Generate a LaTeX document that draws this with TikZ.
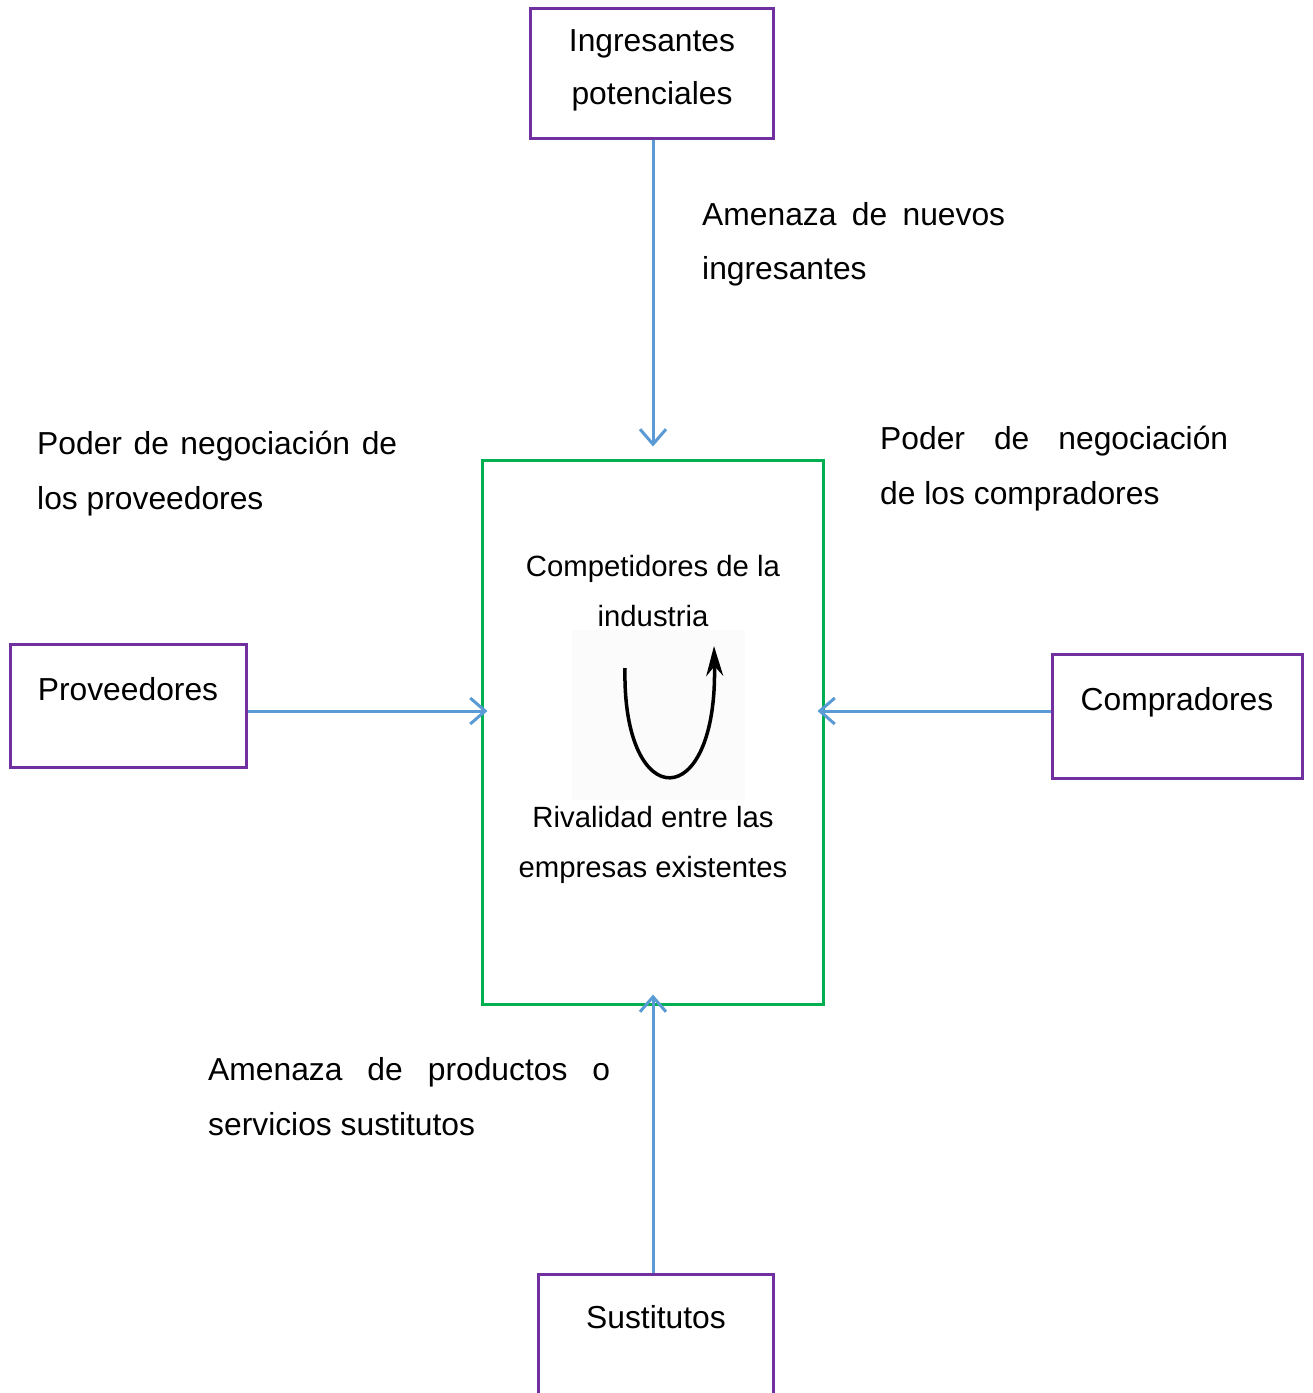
\documentclass[tikz,border=0pt]{standalone}
\usepackage{fontspec}
\setmainfont{Liberation Sans}
\usetikzlibrary{arrows.meta}
\definecolor{boxpurple}{HTML}{7030A0}
\definecolor{boxgreen}{HTML}{00B050}
\definecolor{connblue}{HTML}{5B9BD5}
\newcommand\lblfont{\fontsize{31.8}{38}\selectfont}
\newcommand\midfont{\fontsize{29.3}{35}\selectfont}
\begin{document}
\begin{tikzpicture}[x=1pt,y=-1pt,
  forcebox/.style={draw=boxpurple,line width=3pt,rectangle,inner sep=0pt},
  corebox/.style={draw=boxgreen,line width=3pt,rectangle,inner sep=0pt},
  conn/.style={draw=connblue,line width=3pt,-{Straight Barb[length=15pt,width=26pt,line width=3pt]}},
  lbl/.style={inner sep=0pt,anchor=base west,font=\lblfont},
  boxtxt/.style={inner sep=0pt,anchor=base,font=\lblfont},
  midtxt/.style={inner sep=0pt,anchor=base,font=\midfont}]
\useasboundingbox (0,0) rectangle (1313,1393);
% boxes
\node[forcebox,minimum width=243pt,minimum height=130pt] (ingr) at (651.5,73) {};
\node[corebox,minimum width=341pt,minimum height=544pt] (core) at (652.5,732) {};
\node[forcebox,minimum width=236pt,minimum height=123pt] (prov) at (128,705.5) {};
\node[forcebox,minimum width=250pt,minimum height=124pt] (comp) at (1177,716) {};
\node[forcebox,minimum width=235pt,minimum height=126pt] (sust) at (655.5,1337) {};
\coordinate (mid) at (653,711);
% box texts
\node[boxtxt] (ingr1) at (652,51) {Ingresantes};
\node[boxtxt] (ingr2) at (652,104) {potenciales};
\node[boxtxt] (provt) at (128,700) {Proveedores};
\node[boxtxt] (compt) at (1177,710) {Compradores};
\node[boxtxt] (sustt) at (656,1328) {Sustitutos};
% core texts
\node[midtxt] (c1) at (653,576) {Competidores de la};
\node[midtxt] (c2) at (653,626) {industria};
\node[midtxt] (c3) at (653,827) {Rivalidad entre las};
\node[midtxt] (c4) at (653,877) {empresas existentes};
% rivalry cycle arrow
\fill[black!1.5] (572,630) rectangle (745,800);
\draw[line width=3.5pt,-{Stealth[length=30pt,width=17pt]}] (625,668) .. controls (622,815) and (718,815) .. (714,646);
% connectors
\draw[conn,shorten >=12pt] (mid |- ingr.south) -- (mid |- core.north);
\draw[conn,shorten >=-7pt] (prov.east |- mid) -- (core.west |- mid);
\draw[conn,shorten >=-7pt] (comp.west |- mid) -- (core.east |- mid);
\draw[conn,shorten >=-11pt] (mid |- sust.north) -- (mid |- core.south);
% force labels
\node[lbl] (a1) at (702,225) {\hbox to 303pt{Amenaza\hfill de\hfill nuevos}};
\node[lbl] (a2) at (702,279) {ingresantes};
\node[lbl] (p1) at (37,454) {\hbox to 360pt{Poder\hfill de\hfill negociación\hfill de}};
\node[lbl] (p2) at (37,509) {los proveedores};
\node[lbl] (b1) at (880,449) {\hbox to 348pt{Poder\hfill de\hfill negociación}};
\node[lbl] (b2) at (880,504) {de los compradores};
\node[lbl] (s1) at (208,1080) {\hbox to 402pt{Amenaza\hfill de\hfill productos\hfill o}};
\node[lbl] (s2) at (208,1135) {servicios sustitutos};
\end{tikzpicture}
\end{document}
